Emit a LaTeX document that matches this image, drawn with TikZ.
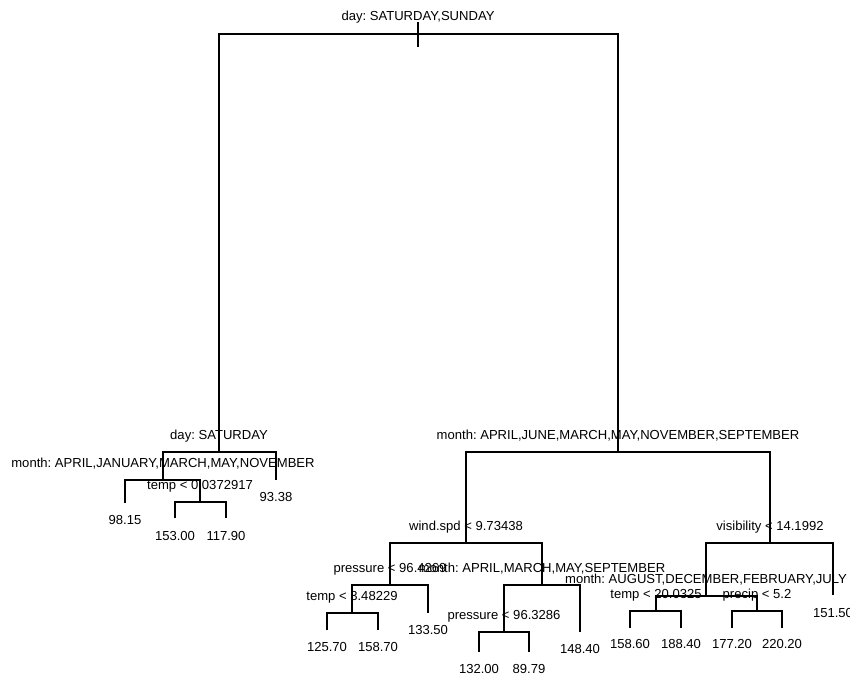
\documentclass[tikz,border=0pt]{standalone}
\usepackage{fontspec}
\setmainfont{Liberation Sans}
\frenchspacing

\tikzset{every picture/.style={line width=1.1pt}}
\tikzset{
  splitlab/.style={anchor=base, inner sep=0pt, font=\fontsize{9.8}{11}\selectfont},
  leaflab/.style={anchor=base, inner sep=0pt, font=\fontsize{9.8}{11}\selectfont},
}

\begin{document}
\begin{tikzpicture}[x=0.75pt,y=0.75pt,yscale=-1,xscale=1]
	\useasboundingbox (0,0) rectangle (850,678);

	% tree nodes
	\coordinate (top) at (418,22);
	\coordinate (stem) at (418,47);
	\coordinate (n1) at (418,34);
	\coordinate (n2) at (219,452);
	\coordinate (n3) at (618,452);
	\coordinate (n4) at (163,480);
	\coordinate (n5) at (276,480);
	\coordinate (n8) at (125,503);
	\coordinate (n9) at (200,502);
	\coordinate (n18) at (175,518);
	\coordinate (n19) at (226,518);
	\coordinate (n6) at (466,543);
	\coordinate (n7) at (770,543);
	\coordinate (n12) at (390,585);
	\coordinate (n13) at (542,585);
	\coordinate (n24) at (352,613);
	\coordinate (n25) at (428,613);
	\coordinate (n48) at (327,630);
	\coordinate (n49) at (378,630);
	\coordinate (n26) at (504,632);
	\coordinate (n27) at (580,632);
	\coordinate (n52) at (479,652);
	\coordinate (n53) at (529,652);
	\coordinate (n14) at (706,596);
	\coordinate (n15) at (833,595);
	\coordinate (n28) at (656,611);
	\coordinate (n29) at (757,611);
	\coordinate (n56) at (630,628);
	\coordinate (n57) at (681,628);
	\coordinate (n58) at (732,628);
	\coordinate (n59) at (782,628);

	% branches
	\draw (top) -- (stem);
	\draw (n1) -| (n2);
	\draw (n1) -| (n3);
	\draw (n2) -| (n4);
	\draw (n2) -| (n5);
	\draw (n4) -| (n8);
	\draw (n4) -| (n9);
	\draw (n9) -| (n18);
	\draw (n9) -| (n19);
	\draw (n3) -| (n6);
	\draw (n3) -| (n7);
	\draw (n6) -| (n12);
	\draw (n6) -| (n13);
	\draw (n12) -| (n24);
	\draw (n12) -| (n25);
	\draw (n24) -| (n48);
	\draw (n24) -| (n49);
	\draw (n13) -| (n26);
	\draw (n13) -| (n27);
	\draw (n26) -| (n52);
	\draw (n26) -| (n53);
	\draw (n7) -| (n14);
	\draw (n7) -| (n15);
	\draw (n14) -| (n28);
	\draw (n14) -| (n29);
	\draw (n28) -| (n56);
	\draw (n28) -| (n57);
	\draw (n29) -| (n58);
	\draw (n29) -| (n59);

	% Text Node: splits
	\node[splitlab] (s1) at (418,21) {day: SATURDAY,SUNDAY};
	\node[splitlab] (s2) at (219,439) {day: SATURDAY};
	\node[splitlab] (s3) at (618,439) {month: APRIL,JUNE,MARCH,MAY,NOVEMBER,SEPTEMBER};
	\node[splitlab] (s4) at (163,467) {month: APRIL,JANUARY,MARCH,MAY,NOVEMBER};
	\node[splitlab] (s9) at (200,489) {temp < 0.0372917};
	\node[splitlab] (s6) at (466,530) {wind.spd < 9.73438};
	\node[splitlab] (s7) at (770,530) {visibility < 14.1992};
	\node[splitlab] (s12) at (390,572) {pressure < 96.4269};
	\node[splitlab] (s13) at (542,572) {month: APRIL,MARCH,MAY,SEPTEMBER};
	\node[splitlab] (s24) at (352,600) {temp < 3.48229};
	\node[splitlab] (s26) at (504,619) {pressure < 96.3286};
	\node[splitlab] (s14) at (706,583) {month: AUGUST,DECEMBER,FEBRUARY,JULY};
	\node[splitlab] (s28) at (656,598) {temp < 20.0325};
	\node[splitlab] (s29) at (757,598) {precip < 5.2};

	% Text Node: leaves
	\node[leaflab] (v5) at (276,501) {93.38};
	\node[leaflab] (v8) at (125,524) {98.15};
	\node[leaflab] (v18) at (175,540) {153.00};
	\node[leaflab] (v19) at (226,540) {117.90};
	\node[leaflab] (v25) at (428,634) {133.50};
	\node[leaflab] (v48) at (327,651) {125.70};
	\node[leaflab] (v49) at (378,651) {158.70};
	\node[leaflab] (v27) at (580,653) {148.40};
	\node[leaflab] (v52) at (479,673) {132.00};
	\node[leaflab] (v53) at (529,673) {89.79};
	\node[leaflab] (v15) at (833,617) {151.50};
	\node[leaflab] (v56) at (630,648) {158.60};
	\node[leaflab] (v57) at (681,648) {188.40};
	\node[leaflab] (v58) at (732,648) {177.20};
	\node[leaflab] (v59) at (782,648) {220.20};

\end{tikzpicture}
\end{document}
